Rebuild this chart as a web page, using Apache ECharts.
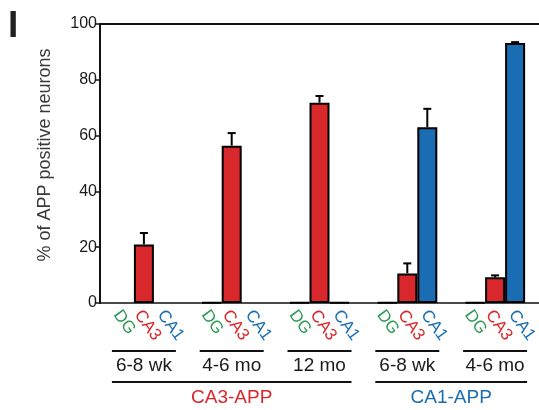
<!DOCTYPE html>
<html>
<head>
<meta charset="utf-8">
<script src="https://cdn.jsdelivr.net/npm/echarts@6/dist/echarts.min.js"></script>
<style>html,body{margin:0;padding:0;background:#fff;}#c{width:539px;height:410px;}</style>
</head>
<body>
<div id="c"></div>
<script>
// ---- data ----
const periods = ['6-8 wk', '4-6 mo', '12 mo', '6-8 wk', '4-6 mo'];
const regions = ['DG', 'CA3', 'CA1'];
const groupNames = ['CA3-APP', 'CA1-APP'];
const groupStart = [0, 3];
const groupEnd = [2, 4];
const dgValues = [null, 0.25, 0.25, 0.25, 0.25];
const ca3Values = [21.0, 56.4, 71.8, 10.6, 9.2];
const ca3Err = [4.1, 4.5, 2.4, 3.6, 0.7];
const ca1Values = [null, null, 0.25, 63.0, 93.2];
const ca1Err = [null, null, null, 6.6, 0.3];
const yTicks = [0, 20, 40, 60, 80, 100];

// ---- style ----
const RED = '#d8282b', BLUE = '#1b6db3', GREEN = '#2f9a55';
const regionColors = [GREEN, RED, BLUE];
const regionDx = [-7, -6, -3];
const groupColors = [RED, BLUE];
const BAR_W = 20;
const FONT = '"Liberation Sans", Arial, sans-serif';
const LABEL_ROT = -54 * Math.PI / 180;

const chart = echarts.init(document.getElementById('c'), null, {renderer: 'canvas'});

function errData(vals, errs) {
  const out = [];
  vals.forEach((v, i) => { if (errs[i] != null) out.push([i, v, errs[i]]); });
  return out;
}
function errRender(offset) {
  return function (params, api) {
    const i = api.value(0), v = api.value(1), e = api.value(2);
    const p0 = api.coord([i, v]);
    const p1 = api.coord([i, v + e]);
    const x = p0[0] + offset;
    return {type: 'group', children: [
      {type: 'line', shape: {x1: x, y1: p0[1], x2: x, y2: p1[1]}, style: {stroke: '#000', lineWidth: 2}},
      {type: 'line', shape: {x1: x - 4, y1: p1[1], x2: x + 4, y2: p1[1]}, style: {stroke: '#000', lineWidth: 2}}
    ]};
  };
}

const regionLabelData = [];
periods.forEach((p, i) => regions.forEach((r, j) => regionLabelData.push([i, 0, j])));

const barBase = {
  type: 'bar', barWidth: BAR_W, barGap: '0%',
  emphasis: {disabled: true}, z: 3
};

chart.setOption({
  animation: false,
  grid: {left: 100, top: 24, width: 440, height: 279, containLabel: false},
  xAxis: [{
    type: 'category', data: periods, position: 'bottom',
    axisLine: {lineStyle: {color: '#111', width: 1.5}},
    axisTick: {show: false}, axisLabel: {show: false}, splitLine: {show: false}
  }, {
    type: 'category', data: periods, position: 'top',
    axisLine: {lineStyle: {color: '#111', width: 2}},
    axisTick: {show: false}, axisLabel: {show: false}, splitLine: {show: false}
  }],
  yAxis: {
    type: 'value', min: 0, max: 100, interval: 20,
    axisLine: {show: true, lineStyle: {color: '#111', width: 2}},
    axisTick: {show: true, inside: false, length: 5, lineStyle: {color: '#111', width: 1.5}},
    axisLabel: {color: '#1a1a1a', fontSize: 16, fontFamily: FONT, margin: 3,
      formatter: v => yTicks.indexOf(v) >= 0 ? String(v) : ''},
    splitLine: {show: false}
  },
  graphic: [
    {type: 'text', left: 8, top: 8, style: {text: 'I', font: 'bold 37px ' + FONT, fill: '#222'}},
    {type: 'text', x: 45, y: 155, rotation: Math.PI / 2,
      style: {text: '% of APP positive neurons', font: '18px ' + FONT, fill: '#3a3a3a', align: 'center', verticalAlign: 'middle'}}
  ],
  series: [
    Object.assign({}, barBase, {name: 'DG', data: dgValues, itemStyle: {color: GREEN, borderColor: '#000', borderWidth: 2}}),
    Object.assign({}, barBase, {name: 'CA3', data: ca3Values, itemStyle: {color: RED, borderColor: '#000', borderWidth: 2}}),
    Object.assign({}, barBase, {name: 'CA1', data: ca1Values, itemStyle: {color: BLUE, borderColor: '#000', borderWidth: 2}}),
    {type: 'custom', name: 'errCA3', data: errData(ca3Values, ca3Err), encode: {x: 0, y: 1}, renderItem: errRender(0), z: 4, silent: true},
    {type: 'custom', name: 'errCA1', data: errData(ca1Values, ca1Err), encode: {x: 0, y: 1}, renderItem: errRender(BAR_W), z: 4, silent: true},
    {type: 'custom', name: 'regionLabels', data: regionLabelData, encode: {x: 0, y: 1}, clip: false, silent: true,
      renderItem: function (params, api) {
        const i = api.value(0), j = api.value(2);
        const p = api.coord([i, 0]);
        const x = p[0] + (j - 1) * BAR_W + regionDx[j];
        return {type: 'text', x: x, y: p[1] + 9, rotation: LABEL_ROT,
          style: {text: regions[j], fill: regionColors[j], font: '17px ' + FONT, align: 'left', verticalAlign: 'middle'}};
      }},
    {type: 'custom', name: 'periodLabels', data: periods.map((p, i) => [i, 0]), encode: {x: 0, y: 1}, clip: false, silent: true,
      renderItem: function (params, api) {
        const i = api.value(0);
        const p = api.coord([i, 0]);
        return {type: 'group', children: [
          {type: 'line', shape: {x1: p[0] - 32, y1: p[1] + 48, x2: p[0] + 32, y2: p[1] + 48}, style: {stroke: '#111', lineWidth: 2}},
          {type: 'text', x: p[0], y: p[1] + 63, style: {text: periods[i], fill: '#1a1a1a', font: '19px ' + FONT, align: 'center', verticalAlign: 'middle'}}
        ]};
      }},
    {type: 'custom', name: 'groupLabels', data: groupNames.map((g, k) => [groupStart[k], 0, groupEnd[k], k]), encode: {x: 0, y: 1}, clip: false, silent: true,
      renderItem: function (params, api) {
        const a = api.coord([api.value(0), 0]);
        const b = api.coord([api.value(2), 0]);
        const k = api.value(3);
        return {type: 'group', children: [
          {type: 'line', shape: {x1: a[0] - 32, y1: a[1] + 79, x2: b[0] + 32, y2: a[1] + 79}, style: {stroke: '#111', lineWidth: 2}},
          {type: 'text', x: (a[0] + b[0]) / 2, y: a[1] + 95, style: {text: groupNames[k], fill: groupColors[k], font: '19px ' + FONT, align: 'center', verticalAlign: 'middle'}}
        ]};
      }}
  ]
});
</script>
</body>
</html>
